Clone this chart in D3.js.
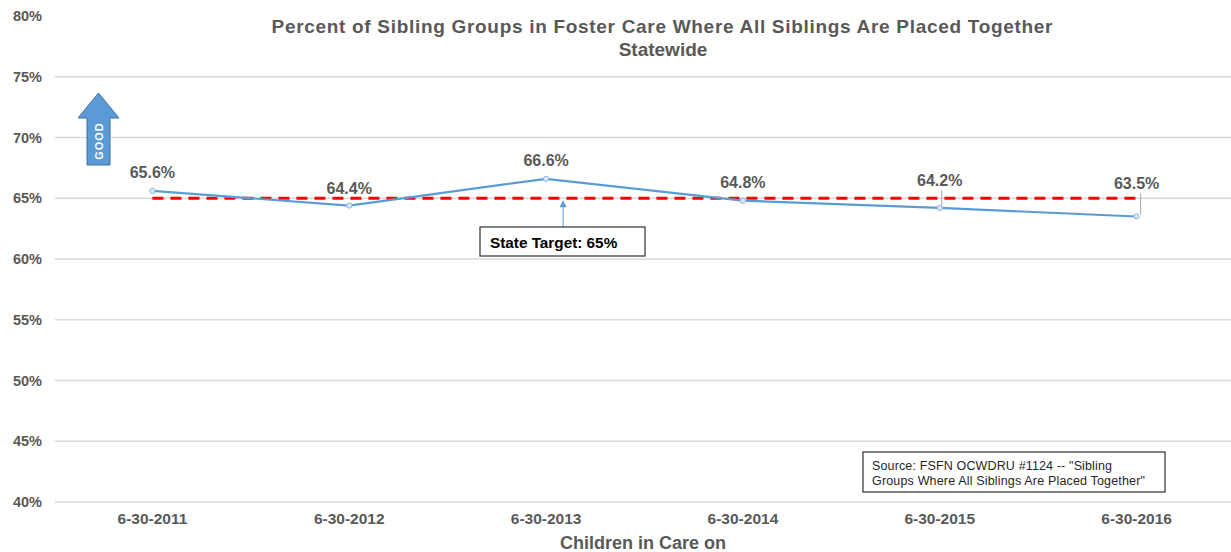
<!DOCTYPE html>
<html>
<head>
<meta charset="utf-8">
<script src="https://cdn.jsdelivr.net/npm/d3@7"></script>
<style>
  html, body { margin: 0; padding: 0; background: #fff; }
  svg { display: block; font-family: "Liberation Sans", Arial, sans-serif; }
</style>
</head>
<body>
<svg id="chart" width="1231" height="552"></svg>
<script>
// Point-in-time dates and the share of sibling groups placed together
const categories = ["6-30-2011", "6-30-2012", "6-30-2013", "6-30-2014", "6-30-2015", "6-30-2016"];
const values = [65.6, 64.4, 66.6, 64.8, 64.2, 63.5];
const targetValue = 65;
const yTicks = [40, 45, 50, 55, 60, 65, 70, 75, 80];
// Label offsets above each point (leader lines drawn where the label sits away from its point)
const labelLift = [13, 12, 13, 13, 22, 27];

const svg = d3.select("#chart");
const textColor = "#595959";

const x = d3.scaleBand().domain(categories).range([54, 1235]);
const y = d3.scaleLinear().domain([40, 80]).range([502, 16]);
const cx = d => x(d) + x.bandwidth() / 2;

// Gridlines
svg.append("g")
  .selectAll("line")
  .data(yTicks)
  .join("line")
  .attr("x1", 55).attr("x2", 1231)
  .attr("y1", d => y(d)).attr("y2", d => y(d))
  .attr("stroke", d => d === 80 ? "none" : "#d9d9d9")
  .attr("stroke-width", 1.3);

// Y axis labels
const yAxis = d3.axisLeft(y).tickValues(yTicks).tickFormat(d => d + "%").tickSize(0).tickPadding(0);
const yg = svg.append("g").attr("transform", "translate(42,0)").call(yAxis);
yg.select(".domain").remove();
yg.selectAll("text")
  .attr("fill", textColor).attr("font-size", 14.5).attr("font-weight", "bold")
  .attr("font-family", "Liberation Sans, Arial, sans-serif");

// X axis labels
const xAxis = d3.axisBottom(x).tickSize(0).tickPadding(0);
const xg = svg.append("g").attr("transform", "translate(0,513)").call(xAxis);
xg.select(".domain").remove();
xg.selectAll("text")
  .attr("fill", textColor).attr("font-size", 15.5).attr("font-weight", "bold")
  .attr("font-family", "Liberation Sans, Arial, sans-serif");

// Axis title
svg.append("text")
  .attr("x", 643).attr("y", 549)
  .attr("text-anchor", "middle")
  .attr("fill", textColor).attr("font-size", 18).attr("font-weight", "bold")
  .text("Children in Care on");

// Chart title
const title = svg.append("text")
  .attr("text-anchor", "middle")
  .attr("fill", textColor).attr("font-size", 19).attr("font-weight", "bold");
title.append("tspan").attr("x", 662).attr("y", 33)
  .attr("textLength", 781).attr("lengthAdjust", "spacing")
  .text("Percent of Sibling Groups in Foster Care Where All Siblings Are Placed Together");
title.append("tspan").attr("x", 663).attr("y", 56).text("Statewide");

// Target line
svg.append("line")
  .attr("x1", cx(categories[0])).attr("x2", cx(categories[categories.length - 1]))
  .attr("y1", y(targetValue)).attr("y2", y(targetValue))
  .attr("stroke", "#ff0000").attr("stroke-width", 3.2)
  .attr("stroke-dasharray", "11,7");

// Series line
const line = d3.line().x((d, i) => cx(categories[i])).y(d => y(d));
svg.append("path")
  .datum(values)
  .attr("d", line)
  .attr("fill", "none")
  .attr("stroke", "#5b9bd5").attr("stroke-width", 2.2);

// Leader lines for labels set apart from their points
svg.append("g")
  .selectAll("line")
  .data(values.map((v, i) => ({ v, i })).filter(d => labelLift[d.i] > 20))
  .join("line")
  .attr("x1", d => cx(categories[d.i]) + (d.i === 5 ? 4 : 2))
  .attr("x2", d => cx(categories[d.i]) + (d.i === 5 ? 4 : 2))
  .attr("y1", d => y(d.v) - labelLift[d.i] + 4)
  .attr("y2", d => y(d.v) - 2)
  .attr("stroke", "#a6a6a6").attr("stroke-width", 1);

// Point markers
svg.append("g")
  .selectAll("path")
  .data(values)
  .join("path")
  .attr("transform", (d, i) => `translate(${cx(categories[i])},${y(d)})`)
  .attr("d", d3.symbol(d3.symbolCircle, 22))
  .attr("fill", "#dbe8f5").attr("stroke", "#8fb4de").attr("stroke-width", 1);

// Data labels
svg.append("g")
  .selectAll("text")
  .data(values)
  .join("text")
  .attr("x", (d, i) => cx(categories[i]))
  .attr("y", (d, i) => y(d) - labelLift[i])
  .attr("text-anchor", "middle")
  .attr("fill", textColor).attr("font-size", 16).attr("font-weight", "bold")
  .text(d => d.toFixed(1) + "%");

// State target callout
const tx = cx(categories[2]) + 17;
svg.append("line")
  .attr("x1", tx).attr("x2", tx)
  .attr("y1", 227).attr("y2", y(targetValue) + 5)
  .attr("stroke", "#5b9bd5").attr("stroke-width", 1);
svg.append("path")
  .attr("d", `M${tx - 3.5},${y(targetValue) + 9} L${tx},${y(targetValue) + 2} L${tx + 3.5},${y(targetValue) + 9} Z`)
  .attr("fill", "#5b9bd5");
svg.append("rect")
  .attr("x", 480).attr("y", 227).attr("width", 165).attr("height", 29)
  .attr("fill", "#fff").attr("stroke", "#404040").attr("stroke-width", 1.3);
svg.append("text")
  .attr("x", 490).attr("y", 247.5)
  .attr("fill", "#000").attr("font-size", 15.3).attr("font-weight", "bold")
  .text("State Target: " + targetValue + "%");

// Source note
svg.append("rect")
  .attr("x", 863).attr("y", 452).attr("width", 302).attr("height", 40)
  .attr("fill", "#fff").attr("stroke", "#404040").attr("stroke-width", 1.3);
const src = svg.append("text").attr("fill", "#262626").attr("font-size", 12.5);
src.append("tspan").attr("x", 872).attr("y", 470)
  .attr("textLength", 240).attr("lengthAdjust", "spacing")
  .text("Source: FSFN OCWDRU #1124 -- \"Sibling");
src.append("tspan").attr("x", 872).attr("y", 485)
  .attr("textLength", 273).attr("lengthAdjust", "spacing")
  .text("Groups Where All Siblings Are Placed Together\"");

// "GOOD" direction arrow
const arrow = svg.append("g");
arrow.append("path")
  .attr("d", "M87,165 L87,118 L78,118 L98.5,93 L119,118 L110,118 L110,165 Z")
  .attr("fill", "#5b9bd5").attr("stroke", "#41719c").attr("stroke-width", 1);
arrow.append("text")
  .attr("transform", "translate(102.5,141) rotate(-90)")
  .attr("text-anchor", "middle")
  .attr("fill", "#fff").attr("font-size", 11).attr("font-weight", "bold")
  .attr("letter-spacing", 1)
  .text("GOOD");
</script>
</body>
</html>
